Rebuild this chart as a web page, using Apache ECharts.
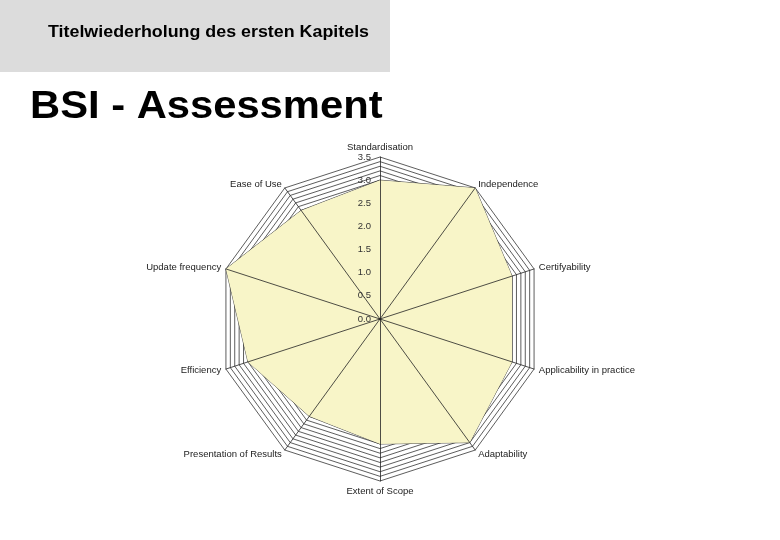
<!DOCTYPE html>
<html>
<head>
<meta charset="utf-8">
<script src="https://cdn.jsdelivr.net/npm/echarts@6/dist/echarts.min.js"></script>
<style>
  html, body { margin: 0; padding: 0; background: #fff; }
  #main { width: 780px; height: 540px; }
</style>
</head>
<body>
<div id="main"></div>
<script>
// indicators in counter-clockwise order from the top (echarts radar direction)
var criteria = ['Standardisation', 'Ease of Use', 'Update frequency', 'Efficiency',
  'Presentation of Results', 'Extent of Scope', 'Adaptability',
  'Applicability in practice', 'Certifyability', 'Independence'];
var scores = [3.0, 2.9, 3.5, 3.0, 2.6, 2.7, 3.3, 3.0, 3.0, 3.5];
var maxScore = 3.5;

var myChart = echarts.init(document.getElementById('main'));

var ind = criteria.map(function (c) { return { name: c, min: 0, max: maxScore }; });
var ind2 = criteria.map(function (c, i) {
  var o = { name: c, min: 0, max: maxScore };
  if (i === 0) o.axisLabel = { show: true };
  return o;
});

var font = 'Liberation Sans, Arial, sans-serif';

option = {
  animation: false,
  graphic: [
    { type: 'rect', left: 0, top: 0, shape: { width: 390, height: 72 }, style: { fill: '#dcdcdc' } },
    { type: 'text', x: 48, y: 24, scaleX: 1.05, style: { text: 'Titelwiederholung des ersten Kapitels', font: 'bold 17px ' + font, fill: '#000' } },
    { type: 'text', x: 30, y: 88, scaleX: 1.07, style: { text: 'BSI - Assessment', font: 'bold 39px ' + font, fill: '#000' } }
  ],
  radar: [{
    center: [380, 319],
    radius: 162,
    shape: 'polygon',
    startAngle: 90,
    splitNumber: 35,
    indicator: ind,
    axisName: { color: '#222', fontSize: 9.5, fontFamily: font },
    nameGap: 5,
    splitLine: { lineStyle: { color: '#333', width: 0.8 } },
    splitArea: { show: false },
    axisLine: { show: false },
    axisLabel: { show: false }
  }, {
    z: 5,
    center: [380, 319],
    radius: 162,
    shape: 'polygon',
    startAngle: 90,
    splitNumber: 35,
    indicator: ind2,
    axisName: { show: false },
    splitLine: { show: false },
    splitArea: { show: false },
    axisLine: { lineStyle: { color: '#222', width: 0.8 } },
    axisTick: { show: false },
    axisLabel: {
      show: false,
      color: '#333',
      fontSize: 9.5,
      fontFamily: font,
      margin: 9,
      formatter: function (v) {
        var t = Math.round(v * 10);
        return t % 5 === 0 ? (t / 10).toFixed(1) : '';
      }
    }
  }],
  series: [{
    type: 'radar',
    radarIndex: 0,
    symbol: 'none',
    lineStyle: { color: '#222', width: 0.8 },
    areaStyle: { color: '#f8f5c8', opacity: 1 },
    data: [{ value: scores, name: 'BSI' }]
  }]
};

myChart.setOption(option);
</script>
</body>
</html>
